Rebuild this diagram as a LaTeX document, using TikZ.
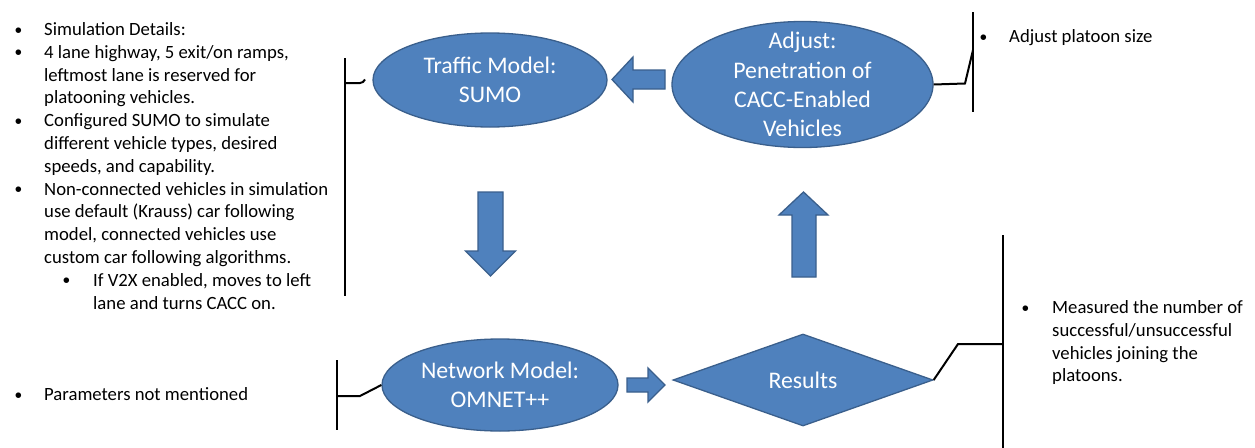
\documentclass[tikz,border=0pt]{standalone}
\usepackage{fontspec}
\setmainfont{Carlito}
\newfontfamily\bulletfont{Liberation Sans}
\usetikzlibrary{shapes.geometric}
\definecolor{fillblue}{HTML}{4F81BD}
\definecolor{edgeblue}{HTML}{3A5F8C}
\newcommand{\sidefont}{\fontsize{18.7}{22.8}\selectfont}
\newcommand{\nodefont}{\fontsize{23.8}{29.2}\selectfont}
\newcommand{\sidebox}[2]{\parbox[t]{#1pt}{\raggedright #2}}
\tikzset{
  shapefill/.style={fill=fillblue, draw=edgeblue, line width=1.3pt},
  ellipsebox/.style={shapefill, ellipse, inner sep=0pt},
  diamondbox/.style={shapefill, diamond, inner sep=0pt},
  shapetext/.style={text=white, font=\nodefont, align=center, inner sep=0pt},
  blockarrow/.style={shapefill, line join=miter},
  sidetext/.style={anchor=base west, inner sep=0pt, font=\sidefont},
  bulletmark/.style={anchor=center, inner sep=0pt, xshift=1.5pt, yshift=-2.3pt, font=\bulletfont\fontsize{20.5}{20.5}\selectfont},
  bracket/.style={draw=black, line width=2.2pt},
  bracketlink/.style={draw=black, line width=2pt, line join=miter},
}
\begin{document}
\begin{tikzpicture}[x=1pt,y=-1pt]
\useasboundingbox (0,0) rectangle (1255,447);
\fill[white] (0,0) rectangle (1255,447);

% ---- main shapes ----
\node[ellipsebox, minimum width=234pt, minimum height=94pt,
      label={[shapetext]center:{Traffic Model:\\SUMO}}] (traffic) at (490,80) {};
\node[ellipsebox, minimum width=261pt, minimum height=126pt,
      label={[shapetext]center:{Adjust:\\Penetration of\\CACC-Enabled\\Vehicles}}] (adjust) at (802.5,84.5) {};
\node[ellipsebox, minimum width=236pt, minimum height=92pt,
      label={[shapetext]center:{Network Model:\\OMNET++}}] (network) at (500,385) {};
\node[diamondbox, minimum width=260pt, minimum height=92pt,
      label={[shapetext]center:{Results}}] (results) at (803,380) {};

% ---- block arrows ----
% adjust -> traffic
\filldraw[blockarrow] (612,79.5) -- (633,57) -- (633,70) -- (665,70) -- (665,89) -- (633,89) -- (633,102) -- cycle;
% traffic -> network
\filldraw[blockarrow] (478,192) -- (503,192) -- (503,251) -- (515.5,251) -- (490.5,276) -- (465.5,251) -- (478,251) -- cycle;
% network -> results
\filldraw[blockarrow] (627,378) -- (648,378) -- (648,368) -- (665,385) -- (648,402) -- (648,392) -- (627,392) -- cycle;
% results -> adjust
\filldraw[blockarrow] (803.5,192) -- (828,215) -- (816,215) -- (816,277) -- (792,277) -- (792,215) -- (779,215) -- cycle;

% ---- brackets ----
\coordinate (lbt) at (345,58);
\coordinate (lbb) at (345,296);
\coordinate (lbk) at (345,83);
\draw[bracket] (lbt) -- (lbb);
\draw[bracketlink] (lbk) -- (360,83) to[out=0,in=-120] (365,79.5);

\coordinate (abt) at (973,12);
\coordinate (abb) at (973,112);
\coordinate (abk) at (973,50);
\draw[bracket] (abt) -- (abb);
\draw[bracketlink] (adjust.east) -- (965,83.5) -- (abk);

\coordinate (mbt) at (1003,235);
\coordinate (mbb) at (1003,448);
\coordinate (mbk) at (1003,344);
\draw[bracket] (mbt) -- (mbb);
\draw[bracketlink] (results.east) -- (958,344) -- (mbk);

\coordinate (nbt) at (337,360);
\coordinate (nbb) at (337,430);
\coordinate (nbk) at (337,396);
\draw[bracket] (nbt) -- (nbb);
\draw[bracketlink] (nbk) -- (360,396) -- (network.west);

% ---- left text ----
\node[bulletmark] (b1) at (17,30) {•};
\node[sidetext] (t1) at (44,35.5) {\sidebox{320}{Simulation Details:}};
\node[bulletmark] (b2) at (17,52.8) {•};
\node[sidetext] (t2) at (44,58.3) {\sidebox{320}{4 lane highway, 5 exit/on ramps,\\leftmost lane is reserved for\\platooning vehicles.}};
\node[bulletmark] (b3) at (17,121.2) {•};
\node[sidetext] (t3) at (44,126.7) {\sidebox{320}{Configured SUMO to simulate\\different vehicle types, desired\\speeds, and capability.}};
\node[bulletmark] (b4) at (17,189.6) {•};
\node[sidetext] (t4) at (44,195.1) {\sidebox{320}{Non-connected vehicles in simulation\\use default (Krauss) car following\\model, connected vehicles use\\custom car following algorithms.}};
\node[bulletmark] (b5) at (65,280.8) {•};
\node[sidetext] (t5) at (93,286.3) {\sidebox{260}{If V2X enabled, moves to left\\lane and turns CACC on.}};

\node[bulletmark] (b6) at (17,395) {•};
\node[sidetext] (t6) at (44,400.5) {Parameters not mentioned};

% ---- right text ----
\node[bulletmark] (b7) at (982,37) {•};
\node[sidetext] (t7) at (1009,42.5) {Adjust platoon size};
\node[bulletmark] (b8) at (1024,308) {•};
\node[sidetext] (t8) at (1052,313.5) {\sidebox{200}{Measured the number of\\successful/unsuccessful\\vehicles joining the\\platoons.}};
\end{tikzpicture}
\end{document}
